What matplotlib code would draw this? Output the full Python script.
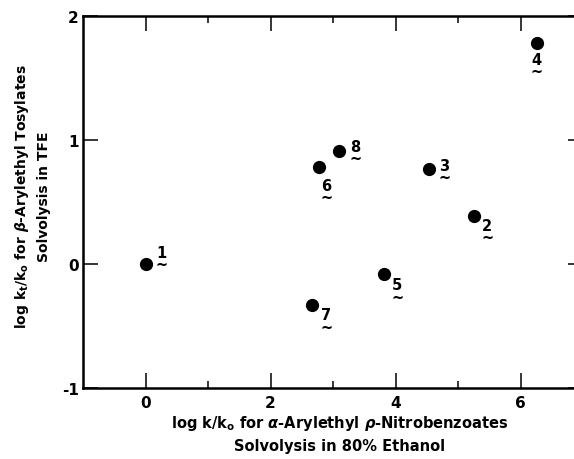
import matplotlib
matplotlib.use("Agg")
import matplotlib.pyplot as plt

# compound numbers and the two rate ratios
compounds = ["1", "2", "3", "4", "5", "6", "7", "8"]
log_k_pnb = [0.0, 5.26, 4.53, 6.26, 3.82, 2.77, 2.67, 3.09]
log_k_ots = [0.0, 0.39, 0.77, 1.78, -0.08, 0.78, -0.33, 0.91]

# where each number sits relative to its dot (pixels, right / down)
label_offsets = [(16, -11), (13, 11), (16, -2), (0, 17),
                 (13, 12), (8, 19), (14, 11), (17, -4)]

x_ticks = [0, 2, 4, 6]
x_minor = [1, 3, 5]
y_ticks = [-1, 0, 1, 2]

plt.rcParams['font.family'] = ['DejaVu Sans']
plt.rcParams['font.weight'] = 'bold'
plt.rcParams['axes.labelweight'] = 'bold'
plt.rcParams['mathtext.fontset'] = 'dejavusans'
plt.rcParams['axes.unicode_minus'] = False

fig = plt.figure(figsize=(5.74, 4.6), dpi=100)
# axes runs a little past the right border, like the scan
ax = fig.add_axes([83 / 574, 1 - 389 / 460, 500 / 574, 372 / 460])

ax.plot(log_k_pnb, log_k_ots, 'o', color='black', markersize=8.5)

# compound number with the wavy underline of the original
for name, x, y, (dx, dy) in zip(compounds, log_k_pnb, log_k_ots, label_offsets):
    ax.annotate(name + "\n~", (x, y), xytext=(dx, -dy - 5), textcoords='offset pixels',
                ha='center', va='center', fontsize=10.5, linespacing=0.75,
                multialignment='center')

ax.set_xlim(-1, 7)
ax.set_ylim(-1, 2)
ax.set_xticks(x_ticks)
ax.set_xticks(x_minor, minor=True)
ax.set_yticks(y_ticks)

for side in ['left', 'top', 'bottom']:
    ax.spines[side].set_linewidth(1.8)
ax.spines['right'].set_visible(False)

ax.tick_params(which='both', direction='in', top=True, right=True, width=1.1)
ax.tick_params(which='major', length=11, labelsize=11, pad=5)
ax.tick_params(which='minor', length=5)
ax.tick_params(axis='y', pad=3)

ax.set_xlabel(r"log k/k$_{\rm o}$ for $\alpha$-Arylethyl $\rho$-Nitrobenzoates" + "\n"
              + "Solvolysis in 80% Ethanol", fontsize=10.5, linespacing=1.5)
ax.xaxis.set_label_coords((340 - 83) / 500, (389 - 434) / 372)
ax.xaxis.label.set_va('center')

ax.set_ylabel(r"log k$_{\rm t}$/k$_{\rm o}$ for $\beta$-Arylethyl Tosylates" + "\n"
              + "Solvolysis in TFE", fontsize=10, linespacing=1.6)
ax.yaxis.set_label_coords((32 - 83) / 500, (389 - 197) / 372)
ax.yaxis.label.set_va('center')

fig.savefig("out.png", dpi=100)
